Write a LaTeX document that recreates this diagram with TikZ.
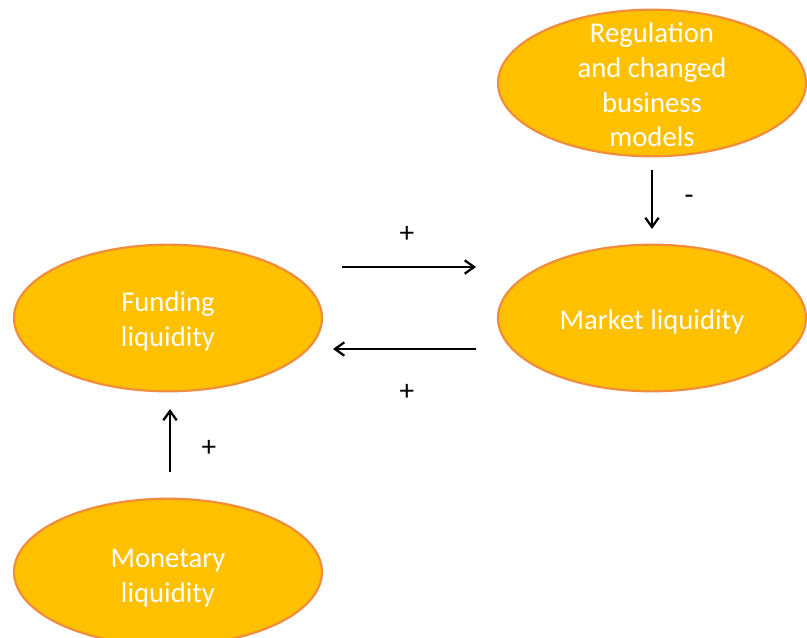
\documentclass[tikz,border=0pt]{standalone}
\usepackage{fontspec}
\setmainfont{Carlito}
\usetikzlibrary{arrows.meta,shapes.geometric}
\definecolor{ellfill}{HTML}{FFC000}
\definecolor{elldraw}{HTML}{F08C3C}
\begin{document}
\begin{tikzpicture}[x=0.75pt,y=-0.75pt,
  bubble/.style={ellipse,draw=elldraw,line width=1.6pt,fill=ellfill,
    minimum width=231pt,minimum height=110pt,inner sep=0pt},
  btext/.style={text=white,align=center,inner sep=0pt,font=\fontsize{21.5}{26}\selectfont},
  link/.style={line width=1.7pt,-{Straight Barb[length=7pt,width=10pt,line width=1.7pt]}},
  sign/.style={font=\fontsize{22}{24}\selectfont,inner sep=0pt}]
\useasboundingbox (0,0) rectangle (807,638);
\node[bubble] (reg) at (652,83) {};
\node[bubble] (fund) at (168,318) {};
\node[bubble] (mkt) at (652,318) {};
\node[bubble] (mon) at (168,572) {};
\node[btext] (regt) at ([yshift=-1.5pt]reg.center) {Regulation\\and changed\\business\\models};
\node[btext] (fundt) at ([yshift=-2.3pt]fund.center) {Funding\\liquidity};
\node[btext] (mktt) at ([yshift=-3pt]mkt.center) {Market liquidity};
\node[btext] (mont) at ([yshift=-4.5pt]mon.center) {Monetary\\liquidity};
\coordinate (a1s) at (342,267); \coordinate (a1e) at (476,267);
\coordinate (a2s) at (476,349); \coordinate (a2e) at (333,349);
\coordinate (a3s) at (652,170); \coordinate (a3e) at (652,229);
\coordinate (a4s) at (170,472); \coordinate (a4e) at (170,409);
\draw[link] (a1s) -- (a1e);
\draw[link] (a2s) -- (a2e);
\draw[link] (a3s) -- (a3e);
\draw[link] (a4s) -- (a4e);
\node[sign] (p1) at (407,234) {+};
\node[sign] (p2) at (407,392) {+};
\node[sign] (m1) at (689,200) {-};
\node[sign] (p3) at (209,448) {+};
\end{tikzpicture}
\end{document}
